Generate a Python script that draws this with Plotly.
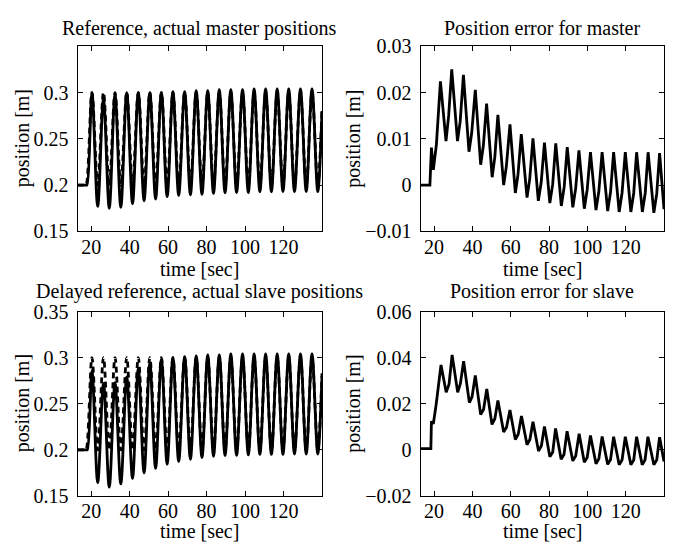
import plotly.graph_objects as go

# ---------------- data ----------------
# times of the oscillation peaks / troughs (sec)
peak_t = [20.4, 26.4, 32.4, 38.5, 44.5, 50.5, 56.5, 62.5, 68.6, 74.6,
          80.6, 86.6, 92.6, 98.7, 104.7, 110.7, 116.7, 122.7, 128.8, 134.8]
trough_t = [23.4, 29.4, 35.4, 41.5, 47.5, 53.5, 59.5, 65.5, 71.6, 77.6,
            83.6, 89.6, 95.6, 101.7, 107.7, 113.7, 119.7, 125.7, 131.8, 137.8]

# reference (master) and delayed reference (slave) extrema
ref_peak_v = [0.300, 0.300, 0.300, 0.300, 0.300, 0.300, 0.300, 0.300, 0.300, 0.300,
              0.300, 0.300, 0.300, 0.300, 0.300, 0.300, 0.300, 0.300, 0.300, 0.300]
ref_trough_v = [0.200, 0.200, 0.200, 0.200, 0.200, 0.200, 0.200, 0.200, 0.200, 0.200,
                0.200, 0.200, 0.200, 0.200, 0.200, 0.200, 0.200, 0.200, 0.200, 0.200]
ref_start_t = [13.0, 17.0, 17.4]
ref_start_v = [0.200, 0.200, 0.200]
ref_end_t = [140.0]
ref_end_v = [0.283]

# actual master position extrema
master_peak_v = [0.300, 0.293, 0.298, 0.300, 0.300, 0.300, 0.300, 0.301, 0.301, 0.302,
                 0.302, 0.303, 0.303, 0.303, 0.304, 0.304, 0.304, 0.304, 0.304, 0.304]
master_trough_v = [0.177, 0.175, 0.176, 0.180, 0.183, 0.185, 0.1875, 0.189, 0.1896, 0.190,
                   0.191, 0.1917, 0.192, 0.192, 0.1927, 0.1927, 0.193, 0.193, 0.193, 0.193]
master_start_t = [13.0, 17.3, 17.8]
master_start_v = [0.200, 0.200, 0.200]
master_end_t = [140.0]
master_end_v = [0.280]

# actual slave position extrema
slave_peak_v = [0.286, 0.272, 0.273, 0.279, 0.288, 0.294, 0.298, 0.300, 0.301, 0.302,
                0.303, 0.303, 0.304, 0.304, 0.304, 0.304, 0.304, 0.304, 0.304, 0.304]
slave_trough_v = [0.1645, 0.1595, 0.163, 0.169, 0.175, 0.180, 0.1845, 0.1876, 0.1897, 0.1917,
                  0.193, 0.1938, 0.194, 0.1945, 0.195, 0.195, 0.195, 0.1955, 0.1955, 0.1955]
slave_start_t = [13.0, 17.5, 18.0]
slave_start_v = [0.200, 0.200, 0.200]
slave_end_t = [140.0]
slave_end_v = [0.280]

# position error for master
err_m_t = [13.0, 17.8, 18.6, 19.6, 21.2, 23.3,
           26.2, 27.6, 29.2, 32.2, 33.6, 35.3, 38.2, 39.6, 41.5,
           44.3, 45.7, 47.4, 50.3, 51.7, 53.3, 56.3, 57.7, 59.6,
           62.4, 63.8, 65.5, 68.5, 69.9, 71.6, 74.4, 75.9, 77.6,
           80.4, 81.9, 83.5, 86.4, 87.9, 89.5, 92.4, 93.9, 95.6,
           98.4, 99.9, 101.6, 104.5, 106.0, 107.7, 110.6, 112.1, 113.7,
           116.6, 118.1, 119.8, 122.7, 124.2, 125.7, 128.7, 130.2, 131.7,
           134.7, 136.2, 137.7, 140.0]
err_m_v = [0.0, 0.0, 0.0081, 0.0033, 0.0088, 0.0224,
           0.0095, 0.0150, 0.0250, 0.0095, 0.0137, 0.0238, 0.0072, 0.0112, 0.0206,
           0.0044, 0.0085, 0.0176, 0.0017, 0.0061, 0.0152, 0.0000, 0.0040, 0.0131,
           -0.0017, 0.0023, 0.0110, -0.0027, 0.0013, 0.0101, -0.0034, 0.0006, 0.0092,
           -0.0039, 0.0002, 0.0090, -0.0045, -0.0004, 0.0082, -0.0048, -0.0007, 0.0075,
           -0.0051, -0.0010, 0.0071, -0.0054, -0.0013, 0.0071, -0.0056, -0.0015, 0.0071,
           -0.0058, -0.0017, 0.0071, -0.0058, -0.0017, 0.0071, -0.0058, -0.0017, 0.0071,
           -0.0060, -0.0019, 0.0069, -0.0052]

# position error for slave
err_s_t = [13.0, 18.3, 18.6, 19.6, 21.0, 23.6,
           26.3, 27.8, 29.4, 32.3, 33.7, 35.4, 38.4, 39.8, 41.5,
           44.3, 45.8, 47.5, 50.2, 51.7, 53.3, 56.3, 57.8, 59.6,
           62.4, 63.9, 65.6, 68.5, 70.0, 71.6, 74.5, 76.0, 77.6,
           80.4, 81.9, 83.4, 86.3, 87.8, 89.4, 92.4, 93.9, 95.7,
           98.4, 99.9, 101.6, 104.5, 106.0, 107.7, 110.6, 112.1, 113.7,
           116.6, 118.1, 119.8, 122.7, 124.2, 125.7, 128.6, 130.1, 131.6,
           134.7, 136.2, 137.7, 140.0]
err_s_v = [0.0005, 0.0005, 0.0124, 0.0113, 0.0193, 0.0368,
           0.0250, 0.0285, 0.0412, 0.0250, 0.0287, 0.0385, 0.0205, 0.0230, 0.0323,
           0.0153, 0.0175, 0.0264, 0.0110, 0.0135, 0.0214, 0.0077, 0.0098, 0.0173,
           0.0045, 0.0068, 0.0147, 0.0022, 0.0045, 0.0122, -0.0005, 0.0018, 0.0101,
           -0.0030, -0.0010, 0.0093, -0.0041, -0.0020, 0.0081, -0.0048, -0.0027, 0.0070,
           -0.0054, -0.0033, 0.0062, -0.0060, -0.0039, 0.0058, -0.0063, -0.0042, 0.0057,
           -0.0065, -0.0044, 0.0057, -0.0065, -0.0044, 0.0057, -0.0065, -0.0044, 0.0057,
           -0.0065, -0.0044, 0.0055, -0.0050]

x_ticks = [20, 40, 60, 80, 100, 120]
x_range = [13, 140]
pos_ticks_top = [0.15, 0.2, 0.25, 0.3]
pos_ticks_bot = [0.15, 0.2, 0.25, 0.3, 0.35]
errm_ticks = [-0.01, 0, 0.01, 0.02, 0.03]
errs_ticks = [-0.02, 0, 0.02, 0.04, 0.06]

titles = ["Reference, actual master positions", "Position error for master",
          "Delayed reference, actual slave positions", "Position error for slave"]
x_title = "time [sec]"
y_title = "position [m]"


def series(start_t, start_v, pk_v, tr_v, end_t, end_v):
    xs, ys = list(start_t), list(start_v)
    for a, b, c, d in zip(peak_t, pk_v, trough_t, tr_v):
        xs += [a, c]
        ys += [b, d]
    return xs + list(end_t), ys + list(end_v)


FONT = "Liberation Serif"
W, H = 675, 554
LW = 2.8

fig = go.Figure()

rx, ry = series(ref_start_t, ref_start_v, ref_peak_v, ref_trough_v, ref_end_t, ref_end_v)
mx, my = series(master_start_t, master_start_v, master_peak_v, master_trough_v, master_end_t, master_end_v)
sx, sy = series(slave_start_t, slave_start_v, slave_peak_v, slave_trough_v, slave_end_t, slave_end_v)

line_solid = dict(color="black", width=LW, shape="spline", smoothing=1)
line_dash = dict(color="black", width=LW, shape="spline", smoothing=1, dash="6px,4px")

fig.add_trace(go.Scatter(x=mx, y=my, mode="lines", line=line_solid, xaxis="x", yaxis="y"))
fig.add_trace(go.Scatter(x=rx, y=ry, mode="lines", line=line_dash, xaxis="x", yaxis="y"))
fig.add_trace(go.Scatter(x=err_m_t, y=err_m_v, mode="lines",
                         line=dict(color="black", width=LW), xaxis="x2", yaxis="y2"))
fig.add_trace(go.Scatter(x=sx, y=sy, mode="lines", line=line_solid, xaxis="x3", yaxis="y3"))
fig.add_trace(go.Scatter(x=rx, y=ry, mode="lines", line=line_dash, xaxis="x3", yaxis="y3"))
fig.add_trace(go.Scatter(x=err_s_t, y=err_s_v, mode="lines",
                         line=dict(color="black", width=LW), xaxis="x4", yaxis="y4"))

# axes geometry in pixels (left, right, top, bottom)
boxes = [(77.7, 322.0, 36.7, 229.5), (420.7, 664.0, 36.7, 229.5),
         (77.7, 322.0, 313.0, 505.0), (420.7, 664.0, 313.0, 505.0)]
yranges = [[0.15, 0.35], [-0.01, 0.03], [0.15, 0.35], [-0.02, 0.06]]
yticks = [pos_ticks_top, errm_ticks, pos_ticks_bot, errs_ticks]
ytext = [["0.15", "0.2", "0.25", "0.3"],
         ["\u22120.01", "0", "0.01", "0.02", "0.03"],
         ["0.15", "0.2", "0.25", "0.3", "0.35"],
         ["\u22120.02", "0", "0.02", "0.04", "0.06"]]

axstyle = dict(showline=True, linecolor="black", linewidth=1.3, mirror="ticks",
               ticks="inside", ticklen=5, tickwidth=1.1, tickcolor="black",
               showgrid=False, zeroline=False,
               tickfont=dict(family=FONT, size=20, color="black"))

layout = dict(width=W, height=H, margin=dict(l=0, r=0, t=0, b=0),
              paper_bgcolor="white", plot_bgcolor="white", showlegend=False,
              font=dict(family=FONT, size=20, color="black"))
annotations = []
for i, (l, r, t, b) in enumerate(boxes):
    k = "" if i == 0 else str(i + 1)
    layout["xaxis" + k] = dict(axstyle, domain=[l / W, r / W], range=x_range,
                               tickvals=x_ticks, anchor="y" + k, ticklabelstandoff=-3)
    layout["yaxis" + k] = dict(axstyle, domain=[1 - b / H, 1 - t / H], range=yranges[i],
                               tickvals=yticks[i], ticktext=ytext[i], anchor="x" + k,
                               ticklabelstandoff=4)
    cx = (l + r) / 2
    cy = (t + b) / 2
    ty = 18 if i < 2 else 292
    annotations.append(dict(text=titles[i], x=cx / W, y=1 - ty / H, xref="paper", yref="paper",
                            xanchor="center", yanchor="middle", showarrow=False,
                            font=dict(family=FONT, size=20, color="black")))
    xl_bottom = min(b + 52, H)
    annotations.append(dict(text=x_title, x=cx / W, y=1 - xl_bottom / H, xref="paper", yref="paper",
                            xanchor="center", yanchor="bottom", showarrow=False, borderpad=0,
                            font=dict(family=FONT, size=20, color="black")))
    ylx = 22.5 if i % 2 == 0 else 354
    annotations.append(dict(text=y_title, x=ylx / W, y=1 - cy / H, xref="paper", yref="paper",
                            xanchor="center", yanchor="middle", textangle=-90, showarrow=False,
                            font=dict(family=FONT, size=20, color="black")))
layout["annotations"] = annotations
fig.update_layout(**layout)

fig.write_html("out.html")
